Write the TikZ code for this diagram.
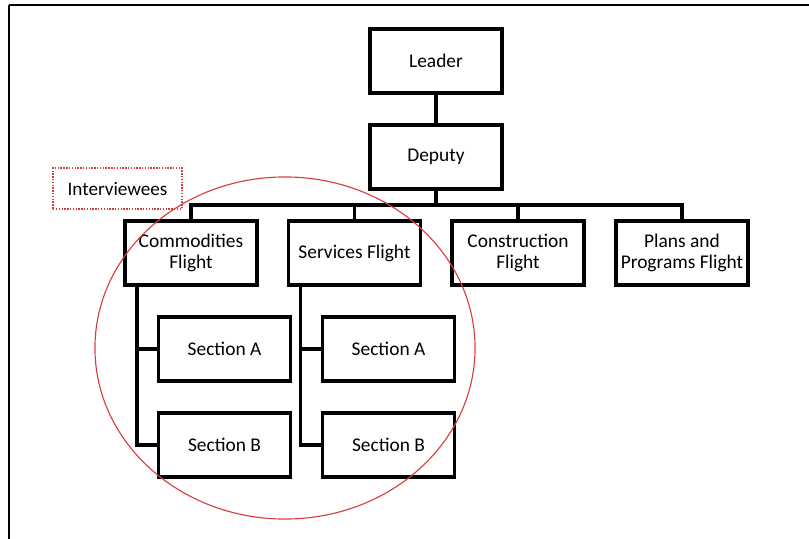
\documentclass[tikz,border=0pt]{standalone}
\usepackage{fontspec}
\setmainfont{Carlito}
\usetikzlibrary{positioning}
\definecolor{ringred}{RGB}{214,62,62}
\begin{document}
\begin{tikzpicture}[x=0.025cm, y=-0.025cm,
        unit/.style={draw, line width=2.5pt, minimum width=3.3cm, minimum height=1.6cm,
                     align=center, inner sep=0pt, font=\fontsize{13.8}{15}\selectfont},
        link/.style={line width=2.5pt},
        note/.style={draw=ringred, dash pattern=on 1pt off 1pt, line width=1.2pt,
                     minimum width=3.22cm, minimum height=1.02cm,
                     font=\fontsize{13.6}{15}\selectfont}]

        \useasboundingbox (0,0) rectangle (809,539);

        % outer frame
        \draw[solid, line width=1.5pt]     (9,5) -- (812,5);
        \draw[solid, line width=1.5pt]     (9,5) -- (9,542);

        % boxes
        \node[unit] (lead) at (436, 61)    {Leader};
        \node[unit] (dep)  at (436, 157)   {Deputy};
        \node[unit] (com)  at (191, 253)   {Commodities\\Flight};
        \node[unit] (ser)  at (354.5, 253) {Services Flight};
        \node[unit] (con)  at (518, 253)   {Construction\\Flight};
        \node[unit] (pla)  at (682, 253)   {Plans and\\Programs Flight};

        \node[unit] (comA) at (224.5, 349) {Section A};
        \node[unit] (comB) at (224.5, 445) {Section B};
        \node[unit] (serA) at (388.5, 349) {Section A};
        \node[unit] (serB) at (388.5, 445) {Section B};

        % connectors
        \coordinate (bus) at (436, 205);
        \draw[link] (lead) -- (dep);
        \draw[link] (dep) -- (bus);
        \draw[link] (com.north) |- (bus) -| (pla.north);
        \draw[link] (ser.north) -- (ser.north |- bus);
        \draw[link] (con.north) -- (con.north |- bus);

        \coordinate (comstem) at ([xshift=0.35cm]com.south west);
        \coordinate (serstem) at ([xshift=0.35cm]ser.south west);
        \draw[link] (comstem) |- (comB.west);
        \draw[link] (comA.west -| comstem) -- (comA.west);
        \draw[link] (serstem) |- (serB.west);
        \draw[link] (serA.west -| serstem) -- (serA.west);

        % interviewees
        \node[note] (who) at (117.5, 188.5) {Interviewees};
        \draw[ringred, line width=0.8pt] (285, 348) ellipse [x radius=4.75cm, y radius=4.275cm];
    \end{tikzpicture}
\end{document}
